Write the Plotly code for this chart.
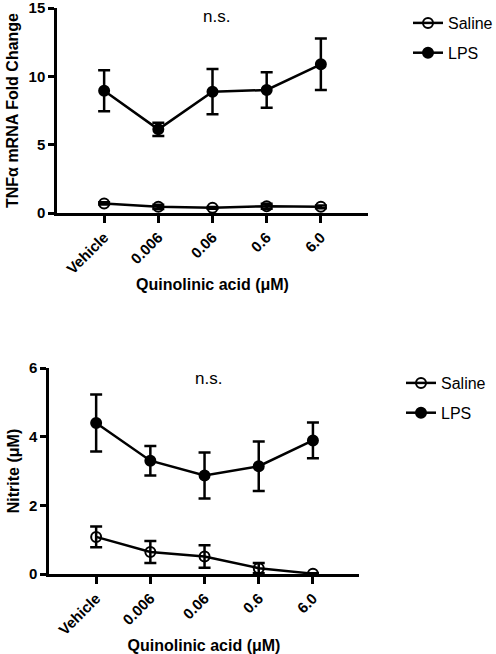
import plotly.graph_objects as go

categories = ["Vehicle", "0.006", "0.06", "0.6", "6.0"]
xpos = [0, 1, 2, 3, 4]

# Top panel: TNFα mRNA fold change
tnf_saline = [0.70, 0.45, 0.38, 0.50, 0.45]
tnf_saline_err = [0.08, 0.15, 0.06, 0.18, 0.10]
tnf_lps = [8.95, 6.12, 8.88, 9.00, 10.88]
tnf_lps_err = [1.50, 0.48, 1.65, 1.30, 1.88]

# Bottom panel: Nitrite (μM)
nit_saline = [1.08, 0.64, 0.51, 0.17, 0.01]
nit_saline_err = [0.30, 0.32, 0.33, 0.15, 0.01]
nit_lps = [4.40, 3.30, 2.87, 3.14, 3.89]
nit_lps_err = [0.83, 0.43, 0.67, 0.72, 0.52]

W, H = 496, 654
FONT = "Liberation Sans, Arial, sans-serif"
LW = 2.5

def px_x(p):
    return p / W

def px_y(p):
    return 1 - p / H

fig = go.Figure()

def add_series(x, y, err, name, filled, xa, ya, legend, group):
    fig.add_trace(go.Scatter(
        x=x, y=y, name=name, mode="lines+markers",
        xaxis=xa, yaxis=ya, legend=legend, legendgroup=group,
        line=dict(color="black", width=LW),
        marker=dict(symbol="circle" if filled else "circle-open", size=10,
                    color="black", line=dict(color="black", width=2)),
        error_y=dict(type="data", array=err, visible=True, color="black",
                     thickness=LW, width=6),
    ))

add_series(xpos, tnf_saline, tnf_saline_err, "Saline", False, "x", "y", "legend", "a1")
add_series(xpos, tnf_lps, tnf_lps_err, "LPS", True, "x", "y", "legend", "a2")
add_series(xpos, nit_saline, nit_saline_err, "Saline", False, "x2", "y2", "legend2", "b1")
add_series(xpos, nit_lps, nit_lps_err, "LPS", True, "x2", "y2", "legend2", "b2")

tickfont = dict(family=FONT, size=15, color="black", weight="bold")
titlefont = dict(family=FONT, size=16, color="black", weight="bold")

def xaxis(domain, rng, anchor):
    return dict(domain=domain, range=rng, anchor=anchor,
                tickvals=xpos, ticktext=categories, tickangle=-45,
                showline=True, linecolor="black", linewidth=LW,
                ticks="outside", ticklen=7, tickwidth=LW, tickcolor="black",
                showgrid=False, zeroline=False, tickfont=tickfont,
                ticklabeloverflow="allow",
                title=dict(text="Quinolinic acid (μM)", font=titlefont, standoff=3))

def yaxis(domain, rng, dtick, title, anchor):
    return dict(domain=domain, range=rng, anchor=anchor, dtick=dtick,
                showline=True, linecolor="black", linewidth=LW,
                ticks="outside", ticklen=6, tickwidth=LW, tickcolor="black",
                showgrid=False, zeroline=False, tickfont=tickfont,
                ticklabeloverflow="allow",
                title=dict(text=title, font=titlefont, standoff=6))

legfont = dict(family=FONT, size=16, color="black")

fig.update_layout(
    width=W, height=H,
    margin=dict(l=0, r=0, t=0, b=0, autoexpand=False),
    paper_bgcolor="white", plot_bgcolor="white",
    font=dict(family=FONT, color="black"),
    xaxis=xaxis([px_x(57), px_x(368)], [-0.87, 4.87], "y"),
    yaxis=yaxis([px_y(213), px_y(8)], [0, 15], 5, "TNFα mRNA Fold Change", "x"),
    xaxis2=xaxis([px_x(49), px_x(359)], [-0.87, 4.85], "y2"),
    yaxis2=yaxis([px_y(574), px_y(368)], [0, 6], 2, "Nitrite (μM)", "x2"),
    legend=dict(x=px_x(408), y=px_y(6), xanchor="left", yanchor="top",
                font=legfont, bgcolor="rgba(0,0,0,0)",
                tracegroupgap=6, traceorder="grouped"),
    legend2=dict(x=px_x(401), y=px_y(366), xanchor="left", yanchor="top",
                 font=legfont, bgcolor="rgba(0,0,0,0)",
                 tracegroupgap=6, traceorder="grouped"),
    annotations=[
        dict(text="n.s.", x=2.07, y=14.4, xref="x", yref="y", showarrow=False,
             font=dict(family=FONT, size=17, color="black")),
        dict(text="n.s.", x=2.07, y=5.7, xref="x2", yref="y2", showarrow=False,
             font=dict(family=FONT, size=17, color="black")),
    ],
)

fig.write_html("out.html", config={"displayModeBar": False},
               post_script="document.body.style.margin='0';")
